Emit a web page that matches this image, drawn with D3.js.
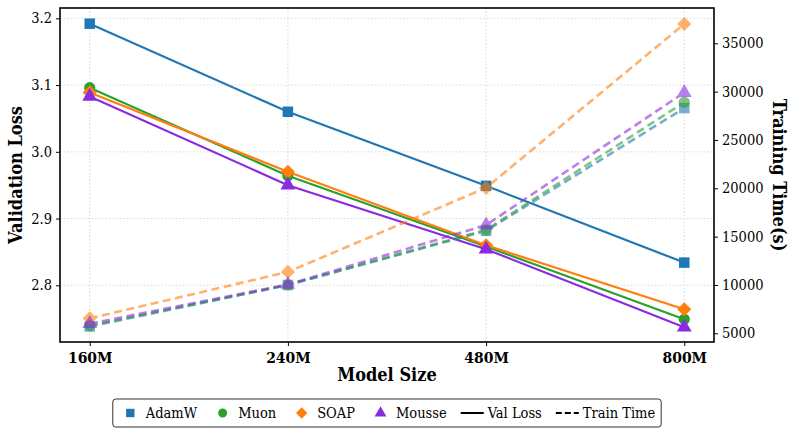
<!DOCTYPE html>
<html>
<head>
<meta charset="utf-8">
<script src="https://cdn.jsdelivr.net/npm/d3@7"></script>
<style>
  body { margin: 0; background: #fff; }
  svg { display: block; }
</style>
</head>
<body>
<div id="chart"></div>
<script>
// Chart data
const modelSizes = ["160M", "240M", "480M", "800M"];
const optimizers = ["AdamW", "Muon", "SOAP", "Mousse"];
const valLoss = {
    AdamW: [3.192, 3.060, 2.949, 2.834],
    Muon: [3.096, 2.964, 2.858, 2.749],
    SOAP: [3.089, 2.970, 2.860, 2.764],
    Mousse: [3.083, 2.950, 2.854, 2.737]
};
const trainTime = {
    AdamW: [5700, 10000, 15600, 28300],
    Muon: [5800, 10000, 15700, 28900],
    SOAP: [6550, 11350, 20050, 37000],
    Mousse: [6000, 10050, 16200, 29900]
};
const lossTicks = [2.8, 2.9, 3.0, 3.1, 3.2];
const timeTicks = [5000, 10000, 15000, 20000, 25000, 30000, 35000];

const colors = { AdamW: "#1f77b4", Muon: "#2ca02c", SOAP: "#ff7f0e", Mousse: "#8a2be2" };
// regular DejaVu Serif isn't installed here, the condensed cut is
const serif = "DejaVu Serif Condensed";

const width = 798, height = 436;
const margin = { top: 8, right: 84, bottom: 94, left: 60 };
const innerWidth = width - margin.left - margin.right;
const innerHeight = height - margin.top - margin.bottom;

const svg = d3.select("#chart")
    .append("svg")
    .attr("width", width)
    .attr("height", height);

const inner = svg.append("g")
    .attr("transform", `translate(${margin.left},${margin.top})`);

// Scales
const xScale = d3.scalePoint()
    .domain(modelSizes)
    .range([0, innerWidth])
    .padding(0.15);

const yLoss = d3.scaleLinear()
    .domain([2.715, 3.2155])
    .range([innerHeight, 0]);

const yTime = d3.scaleLinear()
    .domain([4100, 38652])
    .range([innerHeight, 0]);

// Marker shapes
const markerPath = {
    AdamW: d3.symbol(d3.symbolSquare, 110)(),
    Muon: d3.symbol(d3.symbolCircle, 100)(),
    SOAP: d3.symbol(d3.symbolSquare, 100)(),
    Mousse: d3.symbol(d3.symbolTriangle, 95)()
};
const markerRotate = { AdamW: 0, Muon: 0, SOAP: 45, Mousse: 0 };

// Grid lines
inner.append("g")
    .selectAll("line")
    .data(modelSizes)
    .join("line")
    .attr("x1", d => xScale(d))
    .attr("x2", d => xScale(d))
    .attr("y1", 0)
    .attr("y2", innerHeight)
    .attr("stroke", "#cfcfcf")
    .attr("stroke-width", 0.8)
    .attr("stroke-dasharray", "1.5,2");

inner.append("g")
    .selectAll("line")
    .data(lossTicks)
    .join("line")
    .attr("x1", 0)
    .attr("x2", innerWidth)
    .attr("y1", d => yLoss(d))
    .attr("y2", d => yLoss(d))
    .attr("stroke", "#cfcfcf")
    .attr("stroke-width", 0.8)
    .attr("stroke-dasharray", "1.5,2");

// Validation loss (solid)
const lossLine = d3.line()
    .x((d, i) => xScale(modelSizes[i]))
    .y(d => yLoss(d));

optimizers.forEach(opt => {
    const g = inner.append("g");
    g.append("path")
        .datum(valLoss[opt])
        .attr("d", lossLine)
        .attr("fill", "none")
        .attr("stroke", colors[opt])
        .attr("stroke-width", 2.2);
    g.selectAll("path.marker")
        .data(valLoss[opt])
        .join("path")
        .attr("class", "marker")
        .attr("d", markerPath[opt])
        .attr("transform", (d, i) => `translate(${xScale(modelSizes[i])},${yLoss(d)}) rotate(${markerRotate[opt]})`)
        .attr("fill", colors[opt]);
});

// Training time (dashed, twin axis)
const timeLine = d3.line()
    .x((d, i) => xScale(modelSizes[i]))
    .y(d => yTime(d));

optimizers.forEach(opt => {
    const g = inner.append("g").attr("opacity", 0.6);
    g.append("path")
        .datum(trainTime[opt])
        .attr("d", timeLine)
        .attr("fill", "none")
        .attr("stroke", colors[opt])
        .attr("stroke-width", 2.6)
        .attr("stroke-dasharray", "8,4.5");
    g.selectAll("path.marker")
        .data(trainTime[opt])
        .join("path")
        .attr("class", "marker")
        .attr("d", markerPath[opt])
        .attr("transform", (d, i) => `translate(${xScale(modelSizes[i])},${yTime(d)}) rotate(${markerRotate[opt]})`)
        .attr("fill", colors[opt]);
});

// Axes
const xAxis = inner.append("g")
    .attr("transform", `translate(0,${innerHeight})`)
    .call(d3.axisBottom(xScale).tickSize(4).tickPadding(5));
xAxis.selectAll("text")
    .style("font-family", serif)
    .style("font-size", "15.5px")
    .style("font-weight", "bold")
    .attr("dy", "0.8em");

const leftAxis = inner.append("g")
    .call(d3.axisLeft(yLoss).tickValues(lossTicks).tickFormat(d3.format(".1f")).tickSize(4).tickPadding(4));
leftAxis.selectAll("text")
    .style("font-family", serif)
    .style("font-size", "14.5px");

const rightAxis = inner.append("g")
    .attr("transform", `translate(${innerWidth},0)`)
    .call(d3.axisRight(yTime).tickValues(timeTicks).tickFormat(d3.format("d")).tickSize(4).tickPadding(4));
rightAxis.selectAll("text")
    .style("font-family", serif)
    .style("font-size", "14.5px");

[xAxis, leftAxis, rightAxis].forEach(a => {
    a.select(".domain").remove();
    a.selectAll(".tick line").attr("stroke", "#000").attr("stroke-width", 1);
});

// Frame
inner.append("rect")
    .attr("width", innerWidth)
    .attr("height", innerHeight)
    .attr("fill", "none")
    .attr("stroke", "#000")
    .attr("stroke-width", 1.6);

// Axis labels
svg.append("text")
    .attr("x", margin.left + innerWidth / 2)
    .attr("y", 381)
    .attr("text-anchor", "middle")
    .style("font-family", serif)
    .style("font-size", "18px")
    .style("font-weight", "bold")
    .text("Model Size");

svg.append("text")
    .attr("transform", `translate(22,${margin.top + innerHeight / 2}) rotate(-90)`)
    .attr("text-anchor", "middle")
    .style("font-family", serif)
    .style("font-size", "18px")
    .style("font-weight", "bold")
    .text("Validation Loss");

svg.append("text")
    .attr("transform", `translate(773,${margin.top + innerHeight / 2}) rotate(90)`)
    .attr("text-anchor", "middle")
    .style("font-family", serif)
    .style("font-size", "18px")
    .style("font-weight", "bold")
    .text("Training Time(s)");

// Legend
const legendItems = optimizers.map(o => ({ label: o, type: "marker", key: o }))
    .concat([
        { label: "Val Loss", type: "line", dash: null },
        { label: "Train Time", type: "line", dash: "6,3" }
    ]);

const legend = svg.append("g");
const legendBox = legend.append("rect")
    .attr("y", 399)
    .attr("height", 28)
    .attr("rx", 3)
    .attr("fill", "#fff")
    .attr("stroke", "#333")
    .attr("stroke-width", 1);

const handleW = 23, textPad = 4, colSpacing = 14, boxPad = 6;
const legendY = 413;
let xOffset = 0;
const items = legend.append("g");
legendItems.forEach(item => {
    const g = items.append("g").attr("transform", `translate(${xOffset},0)`);
    if (item.type === "marker") {
        g.append("path")
            .attr("d", markerPath[item.key])
            .attr("transform", `translate(${handleW / 2},${legendY}) rotate(${markerRotate[item.key]}) scale(0.8)`)
            .attr("fill", colors[item.key]);
    } else {
        g.append("line")
            .attr("x1", 0)
            .attr("x2", handleW)
            .attr("y1", legendY)
            .attr("y2", legendY)
            .attr("stroke", "#000")
            .attr("stroke-width", 2)
            .attr("stroke-dasharray", item.dash);
    }
    const t = g.append("text")
        .attr("x", handleW + textPad)
        .attr("y", legendY)
        .attr("dy", "0.35em")
        .style("font-family", serif)
        .style("font-size", "14.5px")
        .text(item.label);
    xOffset += handleW + textPad + t.node().getComputedTextLength() + colSpacing;
});
const totalW = xOffset - colSpacing + boxPad * 2;
const legendX = margin.left + innerWidth / 2 - totalW / 2;
legendBox.attr("x", legendX).attr("width", totalW);
items.attr("transform", `translate(${legendX + boxPad},0)`);
</script>
</body>
</html>
